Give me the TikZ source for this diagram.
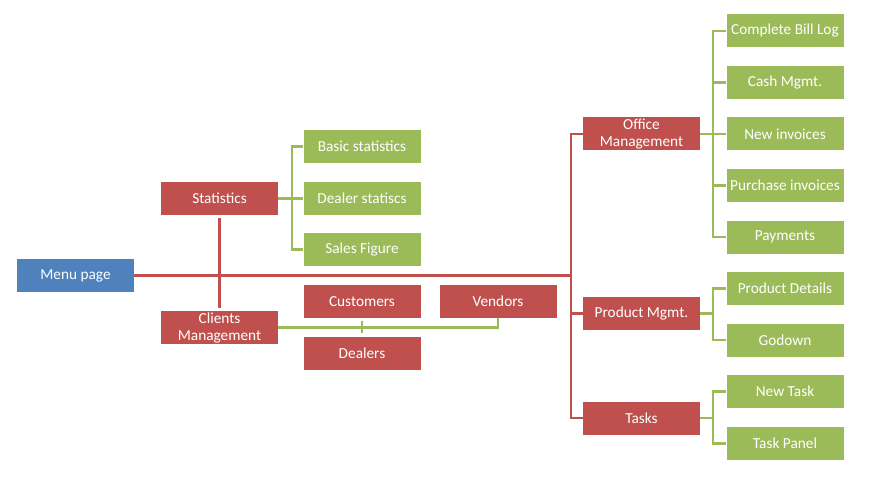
\documentclass[tikz,border=0pt]{standalone}
\usepackage{fontspec}
\setmainfont{Carlito}
\definecolor{boxred}{RGB}{192,80,77}
\definecolor{boxgreen}{RGB}{155,187,89}
\definecolor{boxblue}{RGB}{79,129,189}
\tikzset{
	box/.style       = {rectangle, text=white, minimum width = 117pt,
		minimum height = 33pt, inner sep = 0pt, align = center,
		font = \fontsize{15.3}{17}\selectfont},
	redbox/.style    = {box, fill = boxred},
	greenbox/.style  = {box, fill = boxgreen},
	bluebox/.style   = {box, fill = boxblue},
	redline/.style   = {draw = boxred, line width = 2.3pt},
	greenline/.style = {draw = boxgreen, line width = 2.3pt}
}

\begin{document}
\begin{tikzpicture}[x=1pt, y=-1pt]
	\useasboundingbox (0,0) rectangle (874,489);
	\draw
	node at (75.5,275.5)[bluebox] (menu) {Menu page}
	node at (219.5,198.5)[redbox] (stat) {Statistics}
	node at (219.5,327.5)[redbox] (clients) {Clients\\Management}
	node at (362,146.5)[greenbox] (basic) {Basic statistics}
	node at (362,198.5)[greenbox] (dealer) {Dealer statiscs}
	node at (362,249.5)[greenbox] (sales) {Sales Figure}
	node at (362,301.5)[redbox] (cust) {Customers}
	node at (362,353.5)[redbox] (deal) {Dealers}
	node at (498,301.5)[redbox] (vend) {Vendors};
	
	% right half
	\draw
	node at (641.5,134)[redbox] (office) {Office\\Management}
	node at (641.5,313.5)[redbox] (prod) {Product Mgmt.}
	node at (641.5,418)[redbox] (tasks) {Tasks}
	node at (785,31)[greenbox] (bill) {Complete Bill Log}
	node at (785,82.5)[greenbox] (cash) {Cash Mgmt.}
	node at (785,134)[greenbox] (newinv) {New invoices}
	node at (785,185.5)[greenbox] (purch) {Purchase invoices}
	node at (785,237)[greenbox] (pay) {Payments}
	node at (785,288.5)[greenbox] (pdet) {Product Details}
	node at (785,340)[greenbox] (godown) {Godown}
	node at (785,391.5)[greenbox] (newtask) {New Task}
	node at (785,443.5)[greenbox] (tpanel) {Task Panel};
	
	\coordinate (hub) at (571,275.5);
	\coordinate (sbr) at (292,198.5);
	\coordinate (obr) at (713,134);
	\coordinate (pbr) at (713,313.5);
	\coordinate (tbr) at (713,418);
	
	\draw[redline](menu.east) -- (hub);
	\draw[redline, shorten <=3pt, shorten >=3pt](stat.south) -- (clients.north);
	\draw[redline](office.west) -| (hub) |- (tasks.west);
	\draw[redline](hub) |- (prod.west);
	
	\draw[greenline](stat.east) -- (sbr);
	\draw[greenline](basic.west) -| (sbr) |- (sales.west);
	\draw[greenline](sbr) -- (dealer.west);
	
	\draw[greenline](clients.east) -| (vend.south);
	\draw[greenline, shorten <=3pt, shorten >=4pt](cust.south) -- (deal.north);
	
	\draw[greenline](office.east) -- (obr);
	\draw[greenline](bill.west) -| (obr) |- (pay.west);
	\draw[greenline](obr |- cash.west) -- (cash.west);
	\draw[greenline](obr) -- (newinv.west);
	\draw[greenline](obr |- purch.west) -- (purch.west);
	
	\draw[greenline](prod.east) -- (pbr);
	\draw[greenline](pdet.west) -| (pbr) |- (godown.west);
	
	\draw[greenline](tasks.east) -- (tbr);
	\draw[greenline](newtask.west) -| (tbr) |- (tpanel.west);
\end{tikzpicture}
\end{document}
